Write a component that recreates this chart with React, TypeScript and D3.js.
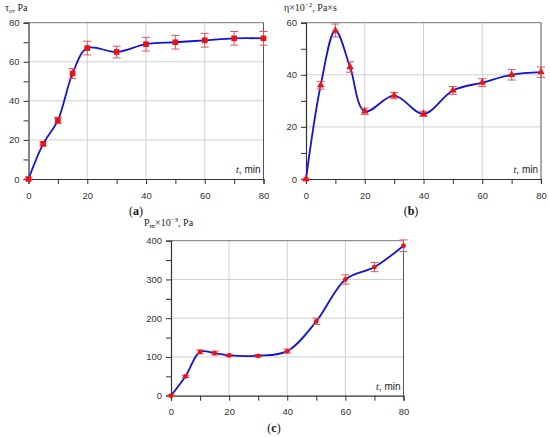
import * as React from "react";
import * as d3 from "d3";

const times: number[] = [0, 5, 10, 15, 20, 30, 40, 50, 60, 70, 80];

const yieldStress: number[] = [0, 18, 30, 54, 67, 65, 69, 70, 71, 72, 72];
const yieldStressErr: number[] = [0.5, 1, 1.5, 2.5, 3.5, 3, 3.5, 3.5, 3.5, 3.5, 3.5];

const viscosity: number[] = [0, 36, 57, 43, 26, 32, 25, 34, 37, 40, 41];
const viscosityErr: number[] = [0.3, 1.5, 2.5, 2, 1.2, 1.2, 1, 1.5, 1.5, 2, 2];

const pressure: number[] = [0, 50, 113, 110, 104, 103, 115, 192, 300, 332, 387];
const pressureErr: number[] = [2, 3, 5, 5, 3, 3, 5, 8, 12, 12, 15];

const xTicks: number[] = [0, 20, 40, 60, 80];
const yTicksA: number[] = [0, 20, 40, 60, 80];
const yTicksB: number[] = [0, 20, 40, 60];
const yTicksC: number[] = [0, 100, 200, 300, 400];

type Box = { left: number; right: number; top: number; bottom: number };
type Marker = "square" | "triangle" | "circle";

interface PanelSpec {
  values: number[];
  errors: number[];
  yMax: number;
  yTicks: number[];
  yMinorStep: number;
  box: Box;
  marker: Marker;
  letter: string;
  letterX: number;
  letterY: number;
}

const TICK_FONT = "'Liberation Sans', Arial, sans-serif";
const SERIF = "'Liberation Serif', 'Times New Roman', serif";

function drawPanel(svg: d3.Selection<SVGSVGElement, unknown, null, undefined>, p: PanelSpec): void {
  const x = d3.scaleLinear().domain([0, 80]).range([p.box.left, p.box.right]);
  const y = d3.scaleLinear().domain([0, p.yMax]).range([p.box.bottom, p.box.top]);
  const g = svg.append("g");

  // grid
  xTicks.slice(1, -1).forEach((t: number) => {
    g.append("line").attr("x1", x(t)).attr("x2", x(t)).attr("y1", y(0)).attr("y2", y(p.yMax))
      .attr("stroke", "#cfcfcf").attr("stroke-width", 1);
  });
  p.yTicks.slice(1, -1).forEach((v: number) => {
    g.append("line").attr("x1", x(0)).attr("x2", x(80)).attr("y1", y(v)).attr("y2", y(v))
      .attr("stroke", "#cfcfcf").attr("stroke-width", 1);
  });

  // frame
  g.append("line").attr("x1", x(0)).attr("x2", x(80)).attr("y1", y(p.yMax)).attr("y2", y(p.yMax))
    .attr("stroke", "#777").attr("stroke-width", 1);
  g.append("line").attr("x1", x(80)).attr("x2", x(80)).attr("y1", y(0)).attr("y2", y(p.yMax))
    .attr("stroke", "#555").attr("stroke-width", 1);

  const xAxis = d3.axisBottom(x).tickValues(d3.range(0, 81, 10)).tickSize(5).tickPadding(8)
    .tickFormat((d: d3.NumberValue) => (+d % 20 === 0 ? String(d) : ""));
  const yAxis = d3.axisLeft(y).tickValues(d3.range(0, p.yMax + 0.01, p.yMinorStep)).tickSize(5).tickPadding(4)
    .tickFormat((d: d3.NumberValue) => (p.yTicks.indexOf(+d) >= 0 ? String(d) : ""));

  const xg = g.append("g").attr("transform", `translate(0,${p.box.bottom})`).call(xAxis);
  const yg = g.append("g").attr("transform", `translate(${p.box.left},0)`).call(yAxis);
  [xg, yg].forEach((a) => {
    a.select(".domain").attr("stroke", "#333").attr("stroke-width", 1.2);
    a.selectAll(".tick line").attr("stroke", "#333");
    a.selectAll(".tick text").attr("font-family", TICK_FONT).attr("font-size", 9.5).attr("fill", "#333");
  });

  // curve
  const line = d3.line<number>()
    .x((_d: number, i: number) => x(times[i]))
    .y((d: number) => y(d))
    .curve(d3.curveCatmullRom.alpha(0.5));
  g.append("path").datum(p.values).attr("d", line).attr("fill", "none")
    .attr("stroke", "#1414d2").attr("stroke-width", 1.8);

  // error bars
  p.values.forEach((v: number, i: number) => {
    const cx = x(times[i]);
    const lo = y(v - p.errors[i]);
    const hi = y(v + p.errors[i]);
    const eb = g.append("g").attr("stroke", "#e05555").attr("stroke-width", 1);
    eb.append("line").attr("x1", cx).attr("x2", cx).attr("y1", lo).attr("y2", hi);
    eb.append("line").attr("x1", cx - 4).attr("x2", cx + 4).attr("y1", lo).attr("y2", lo);
    eb.append("line").attr("x1", cx - 4).attr("x2", cx + 4).attr("y1", hi).attr("y2", hi);
  });

  // markers
  const symbolType = p.marker === "square" ? d3.symbolSquare : p.marker === "triangle" ? d3.symbolTriangle : d3.symbolCircle;
  const symbolSize = p.marker === "square" ? 32 : p.marker === "triangle" ? 24 : 18;
  g.selectAll("path.mk").data(p.values).enter().append("path").attr("class", "mk")
    .attr("d", d3.symbol().type(symbolType).size(symbolSize)())
    .attr("transform", (d: number, i: number) => `translate(${x(times[i])},${y(d)})`)
    .attr("fill", "#ee1111");

  // t, min
  const tl = g.append("text").attr("x", p.box.right - 3).attr("y", p.box.bottom - 6)
    .attr("text-anchor", "end").attr("font-family", TICK_FONT).attr("font-size", 10).attr("fill", "#222");
  tl.append("tspan").attr("font-style", "italic").attr("font-family", SERIF).text("t");
  tl.append("tspan").text(", min");

  // panel letter
  const lt = g.append("text").attr("x", p.letterX).attr("y", p.letterY).attr("text-anchor", "middle")
    .attr("font-family", SERIF).attr("font-size", 12).attr("fill", "#111");
  lt.append("tspan").text("(");
  lt.append("tspan").attr("font-weight", "bold").text(p.letter);
  lt.append("tspan").text(")");
}

const panels: PanelSpec[] = [
  { values: yieldStress, errors: yieldStressErr, yMax: 80, yTicks: yTicksA, yMinorStep: 10,
    box: { left: 28.5, right: 263.5, top: 22.7, bottom: 179 }, marker: "square", letter: "a", letterX: 136, letterY: 215 },
  { values: viscosity, errors: viscosityErr, yMax: 60, yTicks: yTicksB, yMinorStep: 10,
    box: { left: 306, right: 541, top: 22.7, bottom: 179 }, marker: "triangle", letter: "b", letterX: 411, letterY: 215 },
  { values: pressure, errors: pressureErr, yMax: 400, yTicks: yTicksC, yMinorStep: 50,
    box: { left: 171, right: 403.5, top: 240.7, bottom: 395.7 }, marker: "circle", letter: "c", letterX: 274, letterY: 432 },
];

export default function App(): JSX.Element {
  const ref = React.useRef<SVGSVGElement>(null);

  React.useEffect(() => {
    if (!ref.current) return;
    const svg = d3.select(ref.current);
    svg.selectAll("*").remove();
    panels.forEach((p: PanelSpec) => drawPanel(svg, p));

    // axis titles
    const ta = svg.append("text").attr("x", 5).attr("y", 11).attr("font-family", SERIF).attr("font-size", 10).attr("fill", "#222");
    ta.append("tspan").text("τ");
    ta.append("tspan").attr("font-size", 7).attr("font-style", "italic").attr("dy", 2).text("o");
    ta.append("tspan").attr("dy", -2).text(", Pa");

    const tb = svg.append("text").attr("x", 284).attr("y", 11).attr("font-family", SERIF).attr("font-size", 10).attr("fill", "#222");
    tb.append("tspan").text("η×10");
    tb.append("tspan").attr("font-size", 7).attr("dy", -4).text("−2");
    tb.append("tspan").attr("dy", 4).text(", Pa×s");

    const tc = svg.append("text").attr("x", 144).attr("y", 226).attr("font-family", SERIF).attr("font-size", 10).attr("fill", "#222");
    tc.append("tspan").text("P");
    tc.append("tspan").attr("font-size", 7).attr("dy", 2).text("m");
    tc.append("tspan").attr("dy", -2).text("×10");
    tc.append("tspan").attr("font-size", 7).attr("dy", -4).text("−3");
    tc.append("tspan").attr("dy", 4).text(", Pa");
  }, []);

  return (
    <svg ref={ref} width={550} height={437}
      style={{ position: "absolute", left: 0, top: 0, background: "#fff" }} />
  );
}
